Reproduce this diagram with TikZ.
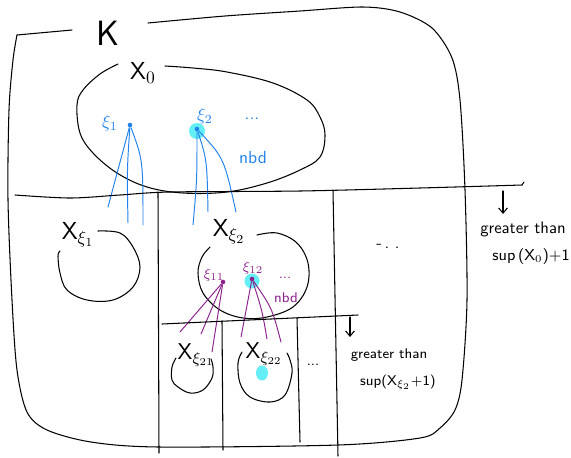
\documentclass[tikz,border=0pt]{standalone}
\usetikzlibrary{arrows.meta}
\definecolor{penblue}{RGB}{35,130,235}
\definecolor{penpurple}{RGB}{140,35,140}
\definecolor{halo}{RGB}{100,238,245}
\begin{document}
\begin{tikzpicture}[x=0.02cm,y=-0.02cm,line width=0.6pt,line cap=round,line join=round,
  ink/.style={draw=black,line width=0.6pt},
  bl/.style={draw=penblue,line width=0.55pt},
  pl/.style={draw=penpurple,line width=0.55pt},
  arr/.style={ink,-{Straight Barb[length=3pt,width=5pt]}},
  big/.style={font=\sffamily\fontsize{14}{16}\selectfont,inner sep=0pt},
  mid/.style={font=\sffamily\fontsize{9.5}{11}\selectfont,inner sep=0pt},
  small/.style={font=\sffamily\fontsize{8}{9.5}\selectfont,inner sep=0pt},
  bluetxt/.style={font=\sffamily\fontsize{10}{12}\selectfont,text=penblue,inner sep=0pt},
  purtxt/.style={font=\sffamily\fontsize{8}{9.5}\selectfont,text=penpurple,inner sep=0pt},
  bdot/.style={circle,fill=penblue,inner sep=0pt,minimum size=2.6pt},
  pdot/.style={circle,fill=penpurple,inner sep=0pt,minimum size=2.6pt},
  halodot/.style={circle,fill=halo,inner sep=0pt,minimum size=0.32cm}]
\useasboundingbox (0,0) rectangle (571,457);

% ---- outer set K ----
\draw[ink] (72,30) -- (17,35);
\draw[ink] plot[smooth,tension=0.5] coordinates {(17,35) (13,60) (9,110) (8,200) (12,300) (17,370) (27,412) (47,430) (91,442) (159,447) (338,445) (420,438) (440,428) (455,410) (462,380) (467,300) (465,190) (460,100) (452,58) (432,28) (400,12) (363,7) (300,11) (225,16) (148,23)};
\node[font=\sffamily\fontsize{20}{22}\selectfont,inner sep=0pt] (K) at (108,33) {K};

% ---- X0 ----
\draw[ink] plot[smooth,tension=0.6] coordinates {(165,66) (193,68) (227,72) (273,83) (307,100) (320,117) (325,135) (320,157) (300,170) (267,183) (227,192) (183,193) (147,187) (117,173) (93,153) (80,133) (77,105) (83,90) (100,74) (118,64)};
\node[big] (X0) at (143,73) {X$_0$};

\node[halodot] (h2) at (197,131) {};
\node[bdot] (xi1) at (130,125) {};
\node[bdot] (xi2) at (197,129) {};
\node[bluetxt] (lxi1) at (110,123) {$\xi_1$};
\node[bluetxt] (lxi2) at (205,116) {$\xi_2$};
\node[bluetxt] (bdots) at (252,119) {...};
\node[bluetxt] (bnbd) at (253,157) {nbd};

\coordinate (e11) at (108,207);
\coordinate (e12) at (128,223);
\coordinate (e13) at (143,225);
\coordinate (e21) at (193,225);
\coordinate (e22) at (208,212);
\coordinate (e23) at (236,212);
\draw[bl] (xi1) -- (e11);
\draw[bl] (xi1) .. controls (127,170) .. (e12);
\draw[bl] (xi1) .. controls (143,160) .. (e13);
\draw[bl] (xi2) .. controls (197,180) .. (e21);
\draw[bl] (xi2) .. controls (207,160) .. (e22);
\draw[bl] (xi2) .. controls (224,158) .. (e23);

% ---- first level of boxes ----
\draw[ink] plot[smooth,tension=0.5] coordinates {(15,195) (70,198) (120,195) (170,192) (300,191) (420,188) (522,185)};
\draw[ink] (522,185) -- (524,182);
\draw[ink] (158,192) -- (159,453);
\draw[ink] (333,190) -- (338,456);
\coordinate (a1s) at (503,191);
\coordinate (a1e) at (503,214);
\draw[arr] (a1s) -- (a1e);
\node[mid] (gt1) at (523,229) {greater than};
\node[mid,font=\sffamily\fontsize{9}{11}\selectfont] (sup1) at (531,257) {sup\,(X$_0$)+1};
\node[mid] (dotsA) at (388,246) {-\,.\,\,.};

% X_{xi1}
\draw[ink] plot[smooth,tension=0.6] coordinates {(98,231) (120,233) (133,247) (140,267) (133,287) (113,300) (87,300) (67,290) (60,273) (58,256) (60,251)};
\node[big] (Xxi1) at (78,235) {X$_{\xi_1}$};

% X_{xi2}
\draw[ink] plot[smooth,tension=0.6] coordinates {(257,235) (277,233) (297,243) (308,263) (307,287) (293,307) (267,317) (243,318) (220,310) (203,293) (198,273) (202,257) (210,247)};
\node[big] (Xxi2) at (229,232) {X$_{\xi_2}$};

\node[halodot,minimum size=0.3cm] (h12) at (252,281) {};
\node[pdot] (xi11) at (223,282) {};
\node[pdot] (xi12) at (252,279) {};
\node[purtxt] (lxi11) at (214,275) {$\xi_{11}$};
\node[purtxt] (lxi12) at (253,268) {$\xi_{12}$};
\node[purtxt] (pdots) at (285,278) {...};
\node[purtxt] (pnbd) at (286,298) {nbd};

\coordinate (f11) at (180,332);
\coordinate (f12) at (201,334);
\coordinate (f13) at (212,352);
\coordinate (f21) at (241,337);
\coordinate (f22) at (267,339);
\coordinate (f23) at (281,342);
\draw[pl] (xi11) -- (f11);
\draw[pl] (xi11) -- (f12);
\draw[pl] (xi11) -- (f13);
\draw[pl] (xi12) -- (f21);
\draw[pl] (xi12) .. controls (262,310) .. (f22);
\draw[pl] (xi12) .. controls (272,308) .. (f23);

% ---- second level of boxes ----
\draw[ink] (162,324) -- (358,315);
\draw[ink] (222,321) -- (223,450);
\draw[ink] (297,318) -- (300,442);
\coordinate (a2s) at (350,317);
\coordinate (a2e) at (350,337);
\draw[arr] (a2s) -- (a2e);
\node[small] (gt2) at (389,355) {greater than};
\node[small] (sup2) at (398,382) {sup(X$_{\xi_2}$+1)};

% X_{xi21}
\draw[ink] plot[smooth,tension=0.6] coordinates {(176,358) (172,367) (172,380) (178,387) (190,393) (203,390) (212,378) (213,367) (211,359)};
\node[big,font=\sffamily\fontsize{13}{15}\selectfont] (Xxi21) at (196,355) {X$_{\xi_{21}}$};

% X_{xi22}
\draw[ink] plot[smooth,tension=0.6] coordinates {(242,352) (238,363) (240,383) (250,397) (270,402) (285,395) (292,373) (290,360) (287,353)};
\node[big,font=\sffamily\fontsize{13}{15}\selectfont] (Xxi22) at (264,354) {X$_{\xi_{22}}$};
\fill[halo] (262,373) ellipse[x radius=0.12cm,y radius=0.15cm];
\node[small] (dotsB) at (313,365) {...};
\end{tikzpicture}
\end{document}
